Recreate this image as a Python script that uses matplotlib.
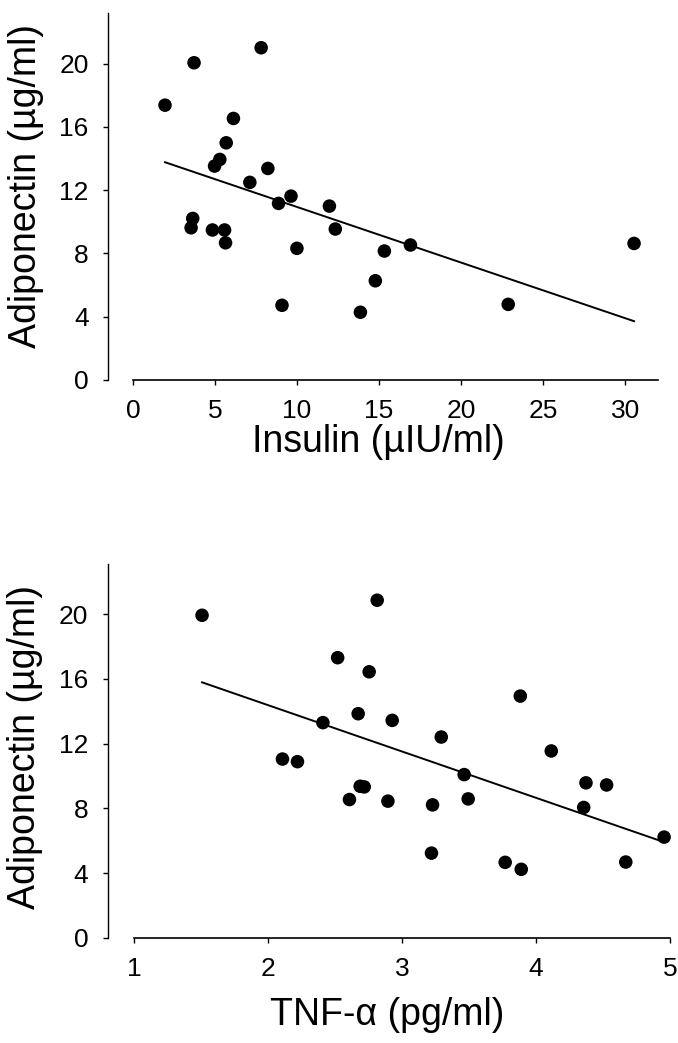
import numpy as np
import matplotlib
matplotlib.use('Agg')
import matplotlib.pyplot as plt

# ---- data ----
insulin = [1.95, 3.72, 7.81, 6.12, 5.68, 5.29, 4.97, 8.22, 7.12, 9.63, 8.87, 11.97, 12.33,
           3.64, 3.54, 4.84, 5.58, 5.64, 9.99, 15.32, 16.91, 14.77, 9.08, 13.86, 22.87, 30.54]
adipo_ins = [17.37, 20.05, 21.0, 16.53, 14.99, 13.94, 13.52, 13.37, 12.49, 11.62, 11.16, 10.99, 9.54,
             10.21, 9.62, 9.48, 9.48, 8.67, 8.32, 8.15, 8.53, 6.27, 4.72, 4.28, 4.78, 8.63]

tnf = [1.508, 2.815, 2.52, 2.755, 2.673, 2.41, 2.927, 2.108, 2.22, 2.688, 2.718, 2.608, 2.895,
       3.883, 3.293, 4.114, 3.464, 4.373, 4.527, 3.494, 3.228, 4.356, 4.956, 3.22, 3.77, 3.89, 4.67]
adipo_tnf = [19.93, 20.86, 17.31, 16.44, 13.85, 13.30, 13.44, 11.05, 10.89, 9.37, 9.33, 8.55, 8.45,
             14.94, 12.41, 11.55, 10.09, 9.58, 9.45, 8.59, 8.22, 8.06, 6.23, 5.24, 4.67, 4.24, 4.69]

ins_ticks = [0, 5, 10, 15, 20, 25, 30]
tnf_ticks = [1, 2, 3, 4, 5]
adipo_ticks = [0, 4, 8, 12, 16, 20]

ylabel = 'Adiponectin (\u00b5g/ml)'
xlabel_top = 'Insulin (\u00b5IU/ml)'
xlabel_bot = 'TNF-\u03b1 (pg/ml)'

plt.rcParams['font.family'] = ['Liberation Sans', 'DejaVu Sans']

fig = plt.figure(figsize=(6.78, 10.43), dpi=100)
ax1 = fig.add_axes([0.1962, 0.6357, 0.7743, 0.3519])
ax2 = fig.add_axes([0.1976, 0.1007, 0.7906, 0.3586])


def draw(ax, x, y, xlim, ylim, xticks, xlabel, outward, ylab_y):
    xa = np.array(x)
    ya = np.array(y)
    ax.scatter(xa, ya, s=95, color='black', edgecolors='none', zorder=3, clip_on=False)
    slope, icpt = np.polyfit(xa, ya, 1)
    xs = np.array([xa.min(), xa.max()])
    ax.plot(xs, slope * xs + icpt, color='black', lw=1.4, zorder=2, clip_on=False)

    ax.set_xlim(*xlim)
    ax.set_ylim(*ylim)
    ax.set_xticks(xticks)
    ax.set_yticks(adipo_ticks)
    for s in ['top', 'right']:
        ax.spines[s].set_visible(False)
    ax.spines['left'].set_position(('outward', outward))
    ax.spines['left'].set_linewidth(1.0)
    ax.spines['bottom'].set_linewidth(1.2)
    ax.tick_params(axis='both', direction='out', length=3.8, width=1.0,
                   labelsize=19, colors='black')
    ax.tick_params(axis='y', pad=10)
    ax.tick_params(axis='x', pad=10)

    ax.set_xlabel(xlabel, fontsize=27)
    ax.set_ylabel(ylabel, fontsize=27)
    ax.xaxis.label.set_va('center')
    ax.yaxis.label.set_va('center')
    ax.xaxis.set_label_coords(0.467, -0.168)
    ax.yaxis.set_label_coords(-0.204, ylab_y)


draw(ax1, insulin, adipo_ins, (0, 32), (0, 23.2), ins_ticks, xlabel_top, 18.2, 0.529)
draw(ax2, tnf, adipo_tnf, (1, 5), (0, 23.1), tnf_ticks, xlabel_bot, 19.0, 0.511)
ax2.xaxis.set_label_coords(0.472, -0.205)

fig.savefig('out.png', dpi=100)
